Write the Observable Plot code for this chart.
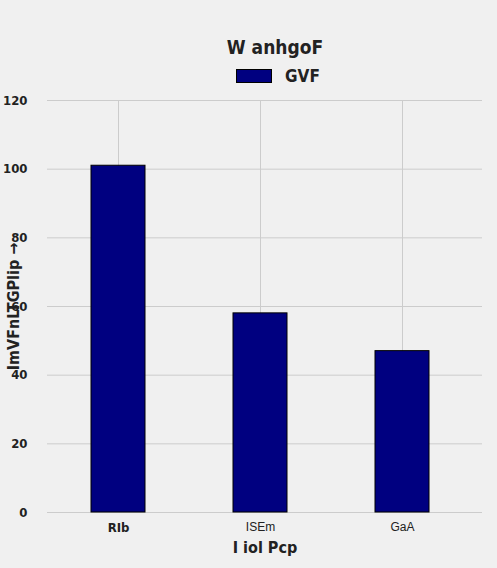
<!DOCTYPE html>
<html><head><meta charset="utf-8">
<script src="https://cdn.jsdelivr.net/npm/d3@7"></script>
<script src="https://cdn.jsdelivr.net/npm/@observablehq/plot@0.6"></script>
<style>
body{margin:0;background:#f0f0f0;font-family:"Liberation Sans Narrow","DejaVu Sans Condensed",sans-serif;color:#222}
#head{height:90px;position:relative}
#title{position:absolute;top:36px;left:0;width:550px;text-align:center;font-size:19px;font-weight:bold}
#legend{position:absolute;top:66px;left:236px;font-size:17px;font-weight:bold;display:flex;align-items:center}
#legend span{display:inline-block;width:34px;height:12px;background:#000080;border:1px solid #000;margin-right:13px}
svg{display:block}
.xt text:nth-of-type(n){font-weight:bold}
</style></head><body>
<div id="head"><div id="title">W anhgoF</div><div id="legend"><span></span>GVF</div></div>
<div id="chart"></div>
<script>
const categories = ["RIb", "ISEm", "GaA"];
const values = [101, 58, 47];
const yTicks = [0, 20, 40, 60, 80, 100, 120];
const data = categories.map((c, i) => ({c, v: values[i]}));
const chart = Plot.plot({
  width: 497, height: 478,
  marginLeft: 47, marginRight: 15, marginTop: 10, marginBottom: 56,
  style: {background: "#f0f0f0", fontFamily: "Liberation Sans Narrow, DejaVu Sans Condensed, sans-serif", fontSize: 13, color: "#222"},
  x: {domain: categories, range: [47, 473], paddingInner: 0.62, paddingOuter: 0.31, label: "I iol Pcp", labelAnchor: "center", labelOffset: 40, tickSize: 0, tickPadding: 10},
  y: {domain: [0, 120], ticks: yTicks, label: "ImVFnLTGPlip", labelAnchor: "center", labelOffset: 40, tickSize: 0, tickPadding: 20},
  marks: [
    Plot.gridX(categories, {stroke: "#ccc", strokeOpacity: 1}),
    Plot.gridY(yTicks, {stroke: "#ccc", strokeOpacity: 1}),
    Plot.barY(data, {x: "c", y: "v", fill: "#000080", stroke: "#000", strokeWidth: 1})
  ]
});
d3.select("#chart").append(() => chart);
d3.select(chart).selectAll("text").style("font-weight", "bold").style("font-size", "13px");
d3.select(chart).selectAll("[aria-label='x-axis label'] text, [aria-label='y-axis label'] text").style("font-size", "16px");
d3.select(chart).selectAll("[aria-label='x-axis tick label'] text").filter((d, i) => i > 0).style("font-weight", "normal").style("font-family", "Liberation Sans, sans-serif").style("font-size", "12px");
</script></body></html>
